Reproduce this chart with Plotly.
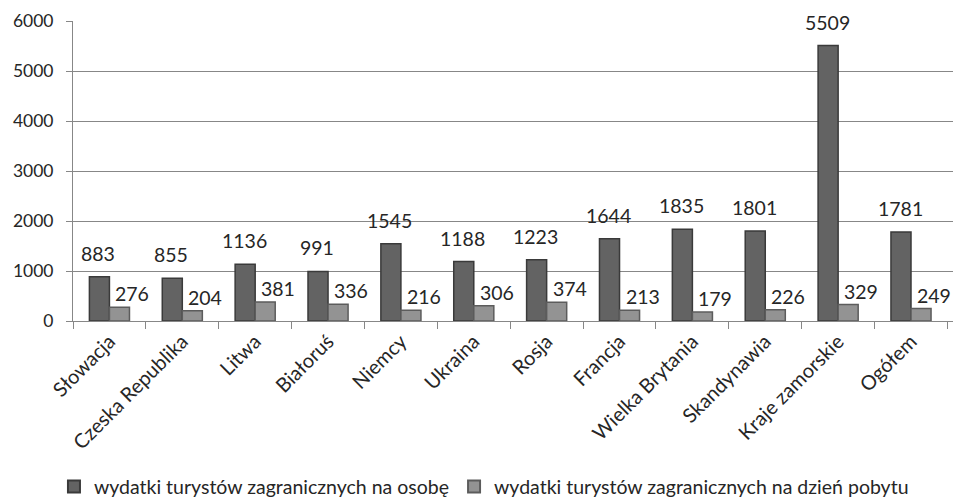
import plotly.graph_objects as go

categories = ["Słowacja", "Czeska Republika", "Litwa", "Białoruś", "Niemcy", "Ukraina",
              "Rosja", "Francja", "Wielka Brytania", "Skandynawia", "Kraje zamorskie", "Ogółem"]
per_person = [883, 855, 1136, 991, 1545, 1188, 1223, 1644, 1835, 1801, 5509, 1781]
per_day = [276, 204, 381, 336, 216, 306, 374, 213, 179, 226, 329, 249]
series_names = ["wydatki turystów zagranicznych na osobę",
                "wydatki turystów zagranicznych na dzień pobytu"]
y_ticks = [0, 1000, 2000, 3000, 4000, 5000, 6000]

FONT = "Lato"
TXT = "#262626"
GRID = "#878787"

fig = go.Figure()
fig.add_trace(go.Bar(x=categories, y=per_person, name=series_names[0],
                     marker=dict(color="#636363", line=dict(color="#3a3a3a", width=1.5))))
fig.add_trace(go.Bar(x=categories, y=per_day, name=series_names[1],
                     marker=dict(color="#939393", line=dict(color="#5c5c5c", width=1.5))))

annotations = []
for c, v in zip(categories, per_person):
    annotations.append(dict(x=c, y=v, text=str(v), showarrow=False, xref="x", yref="y",
                            xanchor="center", yanchor="bottom", xshift=-11, yshift=10,
                            font=dict(family=FONT, size=19.5, color=TXT)))
for c, v in zip(categories, per_day):
    annotations.append(dict(x=c, y=v, text=str(v), showarrow=False, xref="x", yref="y",
                            xanchor="center", yanchor="bottom", xshift=23, yshift=0,
                            font=dict(family=FONT, size=19.5, color=TXT)))

fig.update_layout(
    width=959, height=499,
    margin=dict(l=73, r=6, t=21, b=178, autoexpand=False),
    paper_bgcolor="white", plot_bgcolor="white",
    barmode="group", bargap=0.45, bargroupgap=0,
    font=dict(family=FONT, size=18, color=TXT),
    showlegend=True,
    legend=dict(orientation="h", x=0.467, xanchor="center", y=-0.553, yanchor="middle",
                font=dict(family=FONT, size=19.5, color=TXT), itemsizing="constant",
                traceorder="normal"),
    annotations=annotations,
)
fig.update_xaxes(type="category", tickangle=-45, tickson="boundaries", ticks="outside",
                 ticklen=7, tickcolor=GRID, showline=True, linecolor=GRID, linewidth=1,
                 showgrid=False, automargin=False, tickfont=dict(family=FONT, size=20, color=TXT))
fig.update_yaxes(range=[0, 6000], tickvals=y_ticks, ticks="outside", ticklen=6,
                 tickcolor=GRID, showline=True, linecolor=GRID, linewidth=1,
                 showgrid=True, gridcolor=GRID, gridwidth=1, zeroline=False, automargin=False,
                 ticklabelstandoff=9, tickfont=dict(family=FONT, size=17.5, color=TXT))

fig.write_html("out.html", config={"displayModeBar": False},
               post_script="document.body.style.margin='0';document.body.style.overflow='hidden';")
